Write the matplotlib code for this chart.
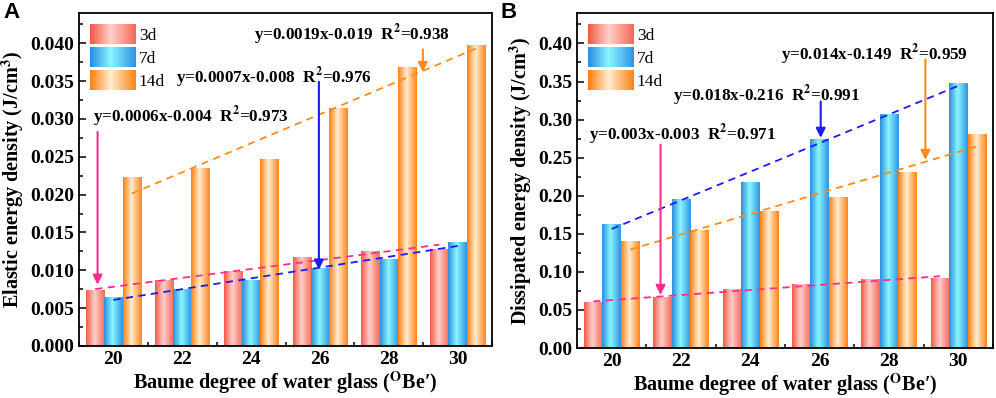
import numpy as np
import matplotlib
matplotlib.use('Agg')
import matplotlib.pyplot as plt
from matplotlib.colors import LinearSegmentedColormap
from matplotlib.legend_handler import HandlerBase
from matplotlib.image import BboxImage
from matplotlib.transforms import Bbox, TransformedBbox
from matplotlib.patches import Patch
from matplotlib.ticker import MultipleLocator, FormatStrFormatter

# data
baume = [20, 22, 24, 26, 28, 30]
ages = ['3d', '7d', '14d']

elastic_3d = [0.0073, 0.0086, 0.0098, 0.0117, 0.0125, 0.0128]
elastic_7d = [0.0064, 0.0075, 0.0086, 0.0103, 0.0114, 0.0137]
elastic_14d = [0.0222, 0.0235, 0.0247, 0.0314, 0.0368, 0.0397]

dissip_3d = [0.060, 0.066, 0.077, 0.083, 0.0895, 0.091]
dissip_7d = [0.162, 0.195, 0.2175, 0.274, 0.3066, 0.347]
dissip_14d = [0.140, 0.154, 0.1795, 0.197, 0.231, 0.280]

eq_a = ['y=0.0006x-0.004  R$^\\mathbf{2}$=0.973',
        'y=0.0007x-0.008  R$^\\mathbf{2}$=0.976',
        'y=0.0019x-0.019  R$^\\mathbf{2}$=0.938']
eq_b = ['y=0.003x-0.003  R$^\\mathbf{2}$=0.971',
        'y=0.018x-0.216  R$^\\mathbf{2}$=0.991',
        'y=0.014x-0.149  R$^\\mathbf{2}$=0.959']

plt.rcParams.update({'font.family': ['Liberation Serif', 'DejaVu Serif'],
                     'mathtext.fontset': 'stix', 'font.weight': 'bold',
                     'axes.linewidth': 1.3})

cmaps = [LinearSegmentedColormap.from_list('c3', [(0, '#f25a48'), (0.45, '#ffd0c9'), (1, '#f46a58')]),
         LinearSegmentedColormap.from_list('c7', [(0, '#2c8de0'), (0.45, '#8af6ff'), (1, '#2f93e3')]),
         LinearSegmentedColormap.from_list('c14', [(0, '#ff7f10'), (0.45, '#ffeed2'), (1, '#ff8318')])]
line_cols = ['#ff2d8f', '#1c1cf0', '#ff8c1a']
grad = np.linspace(0, 1, 64).reshape(1, -1)


class GradHandler(HandlerBase):
    def __init__(self, cmap):
        super().__init__()
        self.cmap = cmap

    def create_artists(self, legend, orig, xd, yd, w, h, fs, trans):
        bb = TransformedBbox(Bbox.from_bounds(-xd, -yd, w, h), trans)
        img = BboxImage(bb, cmap=self.cmap, interpolation='bilinear')
        img.set_data(grad)
        return [img]


def panel(ax, series, eqs, txt_pos, arrows, ylim, ystep, ylabel):
    w = 0.53
    x = np.array(baume, dtype=float)
    for i, vals in enumerate(series):
        bars = ax.bar(x + (i - 1) * w, vals, w, color='none', zorder=2)
        for b in bars:
            x0, y0 = b.get_x(), b.get_y()
            ax.imshow(grad, cmap=cmaps[i], aspect='auto', interpolation='bilinear',
                      extent=(x0, x0 + b.get_width(), y0, y0 + b.get_height()), zorder=2)
        k, c = np.polyfit(x, vals, 1)
        xs = x[[0, -1]]
        ax.plot(xs + (i - 1) * w, k * xs + c, ls=(0, (4, 3)), color=line_cols[i], lw=1.3, zorder=3)
    for i in range(3):
        ax.text(txt_pos[i][0], txt_pos[i][1], eqs[i], fontsize=12.3, fontweight='bold',
                va='center', ha='left', zorder=4)
        xa, y1, y2 = arrows[i]
        ax.annotate('', xy=(xa, y2), xytext=(xa, y1),
                    arrowprops=dict(arrowstyle='-|>', color=line_cols[i], lw=1.5,
                                    mutation_scale=14, shrinkA=0, shrinkB=0), zorder=4)
    ax.set_xlim(19, 31)
    ax.set_ylim(*ylim)
    ax.set_xticks(baume)
    ax.xaxis.set_minor_locator(MultipleLocator(1))
    ax.yaxis.set_major_locator(MultipleLocator(ystep))
    ax.yaxis.set_minor_locator(MultipleLocator(ystep / 2))
    ax.tick_params(which='both', direction='in', width=1.1, labelsize=14)
    ax.tick_params(which='major', length=5)
    ax.tick_params(which='minor', length=3)
    ax.set_xlabel('Baume degree of water glass ($^\\mathbf{O}$Be\u2032)', fontsize=14.5,
                  fontweight='bold', labelpad=1)
    ax.set_ylabel(ylabel, fontsize=14.5, fontweight='bold', labelpad=3)
    handles = [Patch(label=a) for a in ages]
    ax.legend(handles=handles, labels=ages, loc='upper left', frameon=False,
              handler_map={h: GradHandler(cmaps[i]) for i, h in enumerate(handles)},
              handlelength=2.6, handleheight=1.35, labelspacing=0.2, handletextpad=0.2,
              borderaxespad=0.15, borderpad=0.5, prop={'weight': 'normal', 'size': 12.5})


fig = plt.figure(figsize=(9.96, 3.98), dpi=100)
axA = fig.add_axes([0.0793, 0.1307, 0.4147, 0.8367])
axB = fig.add_axes([0.5793, 0.1256, 0.4177, 0.8418])

panel(axA, [elastic_3d, elastic_7d, elastic_14d], eq_a,
      [(19.42, 0.0303), (21.83, 0.0354), (24.09, 0.0411)],
      [(19.54, 0.0283, 0.0081), (25.97, 0.0349, 0.0101), (28.99, 0.0392, 0.0362)],
      (0, 0.044), 0.005, 'Elastic energy density (J/cm$^\\mathbf{3}$)')
axA.yaxis.set_major_formatter(FormatStrFormatter('%.3f'))

panel(axB, [dissip_3d, dissip_7d, dissip_14d], eq_b,
      [(19.34, 0.280), (21.78, 0.3316), (24.89, 0.3855)],
      [(21.41, 0.267, 0.0697), (26.03, 0.3237, 0.276), (29.05, 0.379, 0.247)],
      (0, 0.44), 0.05, 'Dissipated energy density (J/cm$^\\mathbf{3}$)')
axB.yaxis.set_major_formatter(FormatStrFormatter('%.2f'))

fig.text(0.003, 0.995, 'A', fontsize=16, fontweight='bold', family='Liberation Sans', va='top')
fig.text(0.503, 0.995, 'B', fontsize=16, fontweight='bold', family='Liberation Sans', va='top')

fig.savefig('out.png', dpi=100)
